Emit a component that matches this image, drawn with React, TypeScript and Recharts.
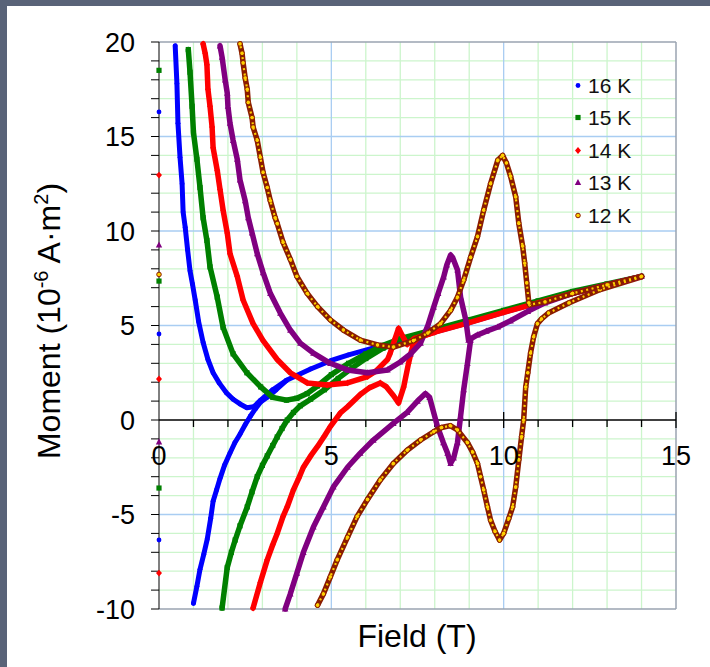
import React from "react";
import { ComposedChart, Scatter, XAxis, YAxis, ReferenceLine, ReferenceDot } from "recharts";

type P = [number, number];

// ---- data: [field (T), moment (1e-6 A·m²)] ----
const k16Up: P[] = [
  [14, 7.6], [13, 7.15], [12, 6.7], [11, 6.2], [10, 5.7], [9, 5.15], [8, 4.65], [7, 4.15],
  [6.2, 3.8], [5.5, 3.45], [5.0, 3.15], [4.4, 2.7], [3.7, 2.1], [3.3, 1.6], [2.95, 1.05],
  [2.75, 0.7], [2.55, 0.65], [2.35, 0.85], [2.15, 1.1], [1.95, 1.45], [1.75, 1.95],
  [1.57, 2.5], [1.42, 3.2], [1.28, 4.1], [1.15, 5.2], [1.05, 6.35], [0.97, 7.2], [0.9, 7.9],
  [0.83, 9.0], [0.76, 10.2], [0.7, 11.0], [0.67, 12.5], [0.61, 13.9], [0.55, 15.7],
  [0.52, 17.8], [0.47, 19.8],
];
const k16Down: P[] = [
  [1.0, -9.7], [1.1, -8.8], [1.19, -7.9], [1.3, -7.1], [1.4, -6.3], [1.5, -5.2], [1.57, -4.3],
  [1.67, -3.7], [1.77, -3.1], [1.9, -2.4], [2.06, -1.75], [2.2, -1.2], [2.35, -0.75],
  [2.5, -0.25], [2.65, 0.2], [2.8, 0.6], [2.95, 0.95], [3.14, 1.2], [3.4, 1.6], [3.7, 2.1],
];
const k16Zero: P[] = [[0, 16.3], [0, 4.55], [0, -6.35]];

const k15Up: P[] = [
  [14, 7.6], [13, 7.2], [12, 6.8], [11, 6.3], [10, 5.8], [9, 5.3], [8, 4.8], [7, 4.3],
  [6.5, 3.95], [6.0, 3.5], [5.5, 3.0], [5.0, 2.4], [4.6, 1.8], [4.3, 1.4], [4.0, 1.15],
  [3.7, 1.05], [3.3, 1.2], [2.95, 1.75], [2.55, 2.5], [2.15, 3.5], [1.86, 4.9], [1.69, 6.5],
  [1.48, 8.1], [1.39, 9.5], [1.28, 10.7], [1.19, 12.3], [1.1, 13.8], [1.0, 15.2],
  [0.96, 16.6], [0.9, 18.4], [0.85, 19.6],
];
const k15Down: P[] = [
  [1.83, -9.95], [1.98, -7.8], [2.1, -7.0], [2.21, -6.35], [2.35, -5.6], [2.56, -4.6],
  [2.7, -3.8], [2.85, -3.0], [3.0, -2.4], [3.14, -1.9], [3.3, -1.35], [3.43, -0.9],
  [3.57, -0.45], [3.72, 0], [3.9, 0.4], [4.1, 0.75], [4.4, 1.1], [4.8, 1.6], [5.2, 2.2],
  [5.6, 2.75], [6.0, 3.25], [6.5, 3.8], [7.0, 4.2],
];
const k15Zero: P[] = [[0, 18.5], [0, 7.35], [0, -3.6]];

const k14Up: P[] = [
  [14, 7.6], [13, 7.15], [12, 6.7], [11, 6.2], [10, 5.7], [9, 5.15], [8, 4.65], [7.4, 4.3],
  [7.2, 4.0], [7.05, 4.5], [6.95, 4.85], [6.85, 4.3], [6.7, 3.5], [6.63, 3.2], [6.3, 2.6],
  [6.05, 2.3], [5.47, 1.96], [4.88, 1.85], [4.3, 1.96], [3.81, 2.5], [3.43, 3.2], [3.02, 4.2],
  [2.73, 5.1], [2.44, 6.35], [2.27, 7.6], [2.06, 8.8], [1.98, 9.9], [1.86, 11.1],
  [1.77, 12.2], [1.69, 13.2], [1.57, 14.4], [1.54, 15.5], [1.48, 16.6], [1.42, 17.5],
  [1.39, 18.8], [1.34, 19.4], [1.28, 19.9],
];
const k14Down: P[] = [
  [2.73, -9.95], [2.94, -8.6], [3.14, -7.4], [3.3, -6.6], [3.43, -6.0], [3.6, -5.1],
  [3.72, -4.6], [3.9, -3.7], [4.05, -3.1], [4.19, -2.5], [4.4, -1.9], [4.6, -1.4],
  [4.8, -0.85], [4.97, -0.35], [5.26, 0.37], [5.47, 0.7], [5.84, 1.35], [6.1, 1.7],
  [6.42, 1.96], [6.6, 1.75], [6.8, 1.3], [6.95, 0.9], [7.1, 1.75], [7.24, 3.0], [7.38, 4.07],
  [7.6, 4.4], [8, 4.65],
];
const k14Zero: P[] = [[0, 12.96], [0, 2.17], [0, -8.1]];

const k13Up: P[] = [
  [14, 7.6], [13, 7.15], [12, 6.7], [11.2, 6.2], [10.7, 5.75], [10.2, 5.25], [9.83, 4.92],
  [9.5, 4.7], [9.24, 4.5], [8.98, 4.23], [8.9, 5.3], [8.75, 6.5], [8.66, 7.94], [8.52, 8.6],
  [8.46, 8.73], [8.35, 8.2], [8.26, 7.57], [8.1, 6.7], [7.97, 5.97], [7.8, 5.0], [7.59, 4.07],
  [7.3, 3.5], [7.0, 3.07], [6.63, 2.65], [6.05, 2.5], [5.47, 2.65], [4.97, 3.0], [4.48, 3.54],
  [4.1, 4.07], [3.81, 4.76], [3.52, 5.66], [3.23, 6.7], [3.02, 7.8], [2.85, 8.8], [2.7, 9.9],
  [2.59, 10.7], [2.5, 11.6], [2.35, 12.7], [2.27, 13.8], [2.15, 14.8], [2.06, 15.7],
  [2.0, 16.6], [1.98, 17.3], [1.92, 18.0], [1.83, 19.2], [1.77, 19.8],
];
const k13Down: P[] = [
  [3.66, -10], [3.81, -9.2], [4.0, -8.1], [4.19, -7.0], [4.48, -5.66], [4.77, -4.6],
  [5.06, -3.54], [5.47, -2.5], [5.84, -1.75], [6.22, -1.06], [6.8, -0.18], [7.2, 0.4],
  [7.5, 1.0], [7.73, 1.4], [7.85, 1.2], [8.08, -0.35], [8.25, -1.2], [8.37, -1.75],
  [8.46, -2.3], [8.55, -2.0], [8.66, -1.2], [8.75, 0.2], [8.84, 1.6], [8.95, 3.0], [9.04, 4.23],
];
const k13Zero: P[] = [[0, 9.26], [0, -1.16]];

const k12Up: P[] = [
  [14, 7.6], [13, 7.15], [12, 6.7], [11.2, 6.25], [10.75, 6.1], [10.73, 6.2], [10.67, 7.25],
  [10.61, 8.3], [10.55, 9.2], [10.44, 10.4], [10.35, 11.8], [10.2, 12.9], [10.08, 13.6],
  [9.97, 14.0], [9.83, 13.75], [9.62, 12.5], [9.42, 11.1], [9.24, 9.7], [9.04, 8.6],
  [8.84, 7.4], [8.66, 6.5], [8.46, 5.8], [8.17, 5.1], [7.8, 4.6], [7.38, 4.2], [6.8, 3.86],
  [6.34, 3.97], [5.84, 4.23], [5.35, 4.76], [4.97, 5.3], [4.6, 6.0], [4.3, 6.7], [4.0, 7.6],
  [3.81, 8.5], [3.6, 9.4], [3.43, 10.4], [3.37, 10.7], [3.23, 11.6], [3.14, 12.3],
  [3.02, 13.1], [2.94, 13.9], [2.85, 14.8], [2.73, 15.5], [2.7, 16.0], [2.59, 16.8],
  [2.56, 17.5], [2.5, 18.1], [2.44, 18.9], [2.41, 19.4], [2.35, 19.9],
];
const k12Down: P[] = [
  [4.6, -9.8], [4.77, -9.2], [4.97, -8.3], [5.17, -7.4], [5.47, -6.2], [5.75, -5.1],
  [6.05, -4.2], [6.42, -3.17], [6.8, -2.3], [7.2, -1.6], [7.59, -1.06], [7.97, -0.62],
  [8.2, -0.4], [8.45, -0.3], [8.66, -0.53], [8.95, -1.2], [9.1, -1.7], [9.24, -2.3],
  [9.33, -3.0], [9.42, -3.7], [9.53, -4.6], [9.62, -5.3], [9.75, -5.9], [9.88, -6.35],
  [10.0, -6.0], [10.15, -5.2], [10.26, -4.6], [10.35, -3.54], [10.44, -2.1], [10.52, -0.88],
  [10.58, 0], [10.64, 1.75], [10.7, 2.5], [10.78, 3.54], [10.87, 4.4], [10.98, 5.1],
  [11.1, 5.35], [11.3, 5.66], [11.9, 6.2], [12.8, 6.9], [14, 7.57],
];
const k12Zero: P[] = [[0, 7.7]];

const legendLabels = ["16 K", "15 K", "14 K", "13 K", "12 K"];

const xLabels = [0, 5, 10, 15];
const xMinor = [1, 2, 3, 4, 6, 7, 8, 9, 11, 12, 13, 14];
const xMajor = [5, 10];
const yMinor = [-9, -8, -7, -6, -4, -3, -2, -1, 1, 2, 3, 4, 6, 7, 8, 9, 11, 12, 13, 14, 16, 17, 18, 19];
const yMajor = [-5, 5, 10, 15];
const yTicks = [
  -10, -9, -8, -7, -6, -5, -4, -3, -2, -1, 0, 1, 2, 3, 4, 5, 6, 7, 8, 9, 10,
  11, 12, 13, 14, 15, 16, 17, 18, 19, 20,
];

const FONT = "'Liberation Sans', Arial, sans-serif";
const MINOR = "#ccf5cc";
const MAJOR = "#a9cdf2";
const BORDER = "#9aa3b0";
const BROWN = "#8b1c00";
const GOLD = "#ffd000";

const toPts = (a: P[]) => a.map(([x, y]) => ({ x, y }));

type ShapeFn = (p: any) => React.ReactElement;

const circle = (fill: string, r: number, stroke?: string): ShapeFn => (p) => (
  <circle cx={p.cx} cy={p.cy} r={r} fill={fill} stroke={stroke ?? "none"} strokeWidth={1} />
);
const square = (fill: string): ShapeFn => (p) => (
  <rect x={p.cx - 2.6} y={p.cy - 2.6} width={5.2} height={5.2} fill={fill} />
);
const diamond = (fill: string): ShapeFn => (p) => (
  <polygon
    points={`${p.cx},${p.cy - 3.4} ${p.cx + 3},${p.cy} ${p.cx},${p.cy + 3.4} ${p.cx - 3},${p.cy}`}
    fill={fill}
  />
);
const triangle = (fill: string): ShapeFn => (p) => (
  <polygon points={`${p.cx},${p.cy - 3.6} ${p.cx + 3.2},${p.cy + 2.6} ${p.cx - 3.2},${p.cy + 2.6}`} fill={fill} />
);
const none: ShapeFn = () => <g />;

const series = [
  { up: k16Up, down: k16Down, zero: k16Zero, color: "#0000ff", shape: circle("#0000ff", 2.4), lw: 5 },
  { up: k15Up, down: k15Down, zero: k15Zero, color: "#008000", shape: square("#008000"), lw: 5.5 },
  { up: k14Up, down: k14Down, zero: k14Zero, color: "#ff0000", shape: diamond("#ff0000"), lw: 5.5 },
  { up: k13Up, down: k13Down, zero: k13Zero, color: "#800080", shape: triangle("#800080"), lw: 5.5 },
  { up: k12Up, down: k12Down, zero: k12Zero, color: BROWN, shape: circle(GOLD, 2.3, BROWN), lw: 5.5 },
];

function LegendBox() {
  return (
    <div style={{ position: "absolute", left: 570, top: 0, fontFamily: FONT }}>
      {legendLabels.map((t, i) => {
        const s = series[i];
        return (
          <div key={t} style={{ position: "absolute", top: 75 + i * 32.4, left: 0, whiteSpace: "nowrap" }}>
            <svg width={16} height={21} style={{ position: "absolute", left: 0, top: 0 }}>
              {s.shape({ cx: 8, cy: 10.5 })}
            </svg>
            <span style={{ position: "absolute", left: 18, top: 0, fontSize: 21, lineHeight: "21px", color: "#111" }}>
              {t}
            </span>
          </div>
        );
      })}
    </div>
  );
}

export default function App() {
  return (
    <div style={{ position: "absolute", left: 0, top: 0, width: 710, height: 667, background: "#596378" }}>
      <div style={{ position: "absolute", left: 7, top: 6, right: 0, bottom: 0, background: "#fff" }} />
      <div style={{ position: "absolute", left: 0, top: 0 }}>
        <ComposedChart width={710} height={667} margin={{ top: 42, right: 34, bottom: 58, left: 79 }}>
          <XAxis type="number" dataKey="x" domain={[0, 15]} hide />
          <YAxis
            type="number"
            dataKey="y"
            domain={[-10, 20]}
            ticks={yTicks}
            interval={0}
            width={80}
            stroke="#000"
            tickSize={8}
            tickMargin={16}
            tickFormatter={(v: number) => (v % 5 === 0 ? String(v) : "")}
            tick={{ fontSize: 27, fill: "#000", fontFamily: FONT }}
          />
          {xMinor.map((v) => (
            <ReferenceLine key={`xm${v}`} x={v} stroke={MINOR} strokeWidth={1.3} />
          ))}
          {yMinor.map((v) => (
            <ReferenceLine key={`ym${v}`} y={v} stroke={MINOR} strokeWidth={1.3} />
          ))}
          {xMajor.map((v) => (
            <ReferenceLine key={`xM${v}`} x={v} stroke={MAJOR} strokeWidth={1.3} />
          ))}
          {yMajor.map((v) => (
            <ReferenceLine key={`yM${v}`} y={v} stroke={MAJOR} strokeWidth={1.3} />
          ))}
          <ReferenceLine y={20} stroke={BORDER} strokeWidth={1.5} />
          <ReferenceLine y={-10} stroke={BORDER} strokeWidth={1.5} />
          <ReferenceLine x={15} stroke={BORDER} strokeWidth={1.5} />
          <ReferenceLine y={0} stroke="#000" strokeWidth={1.3} />
          {xMinor.map((v) => (
            <ReferenceLine
              key={`xt${v}`}
              segment={[{ x: v, y: 0 }, { x: v, y: -0.37 }]}
              stroke="#000"
              strokeWidth={1.3}
            />
          ))}
          {xMajor.concat([15]).map((v) => (
            <ReferenceLine
              key={`xT${v}`}
              segment={[{ x: v, y: 0.42 }, { x: v, y: -0.42 }]}
              stroke="#000"
              strokeWidth={1.3}
            />
          ))}
          {xLabels.map((v) => (
            <ReferenceDot
              key={`xl${v}`}
              x={v}
              y={-1.85}
              r={0}
              stroke="none"
              fill="none"
              label={{ value: String(v), position: "center", fontSize: 27, fill: "#000", fontFamily: FONT }}
            />
          ))}
          {series.map((s, i) => (
            <Scatter
              key={`d${i}`}
              data={toPts(s.down)}
              fill={s.color}
              line={{ stroke: s.color, strokeWidth: s.lw, strokeLinejoin: "round", strokeLinecap: "round" }}
              shape={s.shape}
              isAnimationActive={false}
            />
          ))}
          {series.map((s, i) => (
            <Scatter
              key={`u${i}`}
              data={toPts(s.up)}
              fill={s.color}
              line={{ stroke: s.color, strokeWidth: s.lw, strokeLinejoin: "round", strokeLinecap: "round" }}
              shape={s.shape}
              isAnimationActive={false}
            />
          ))}
          {/* yellow speckle along the 12 K trace */}
          {[k12Down, k12Up].map((b, i) => (
            <Scatter
              key={`g${i}`}
              data={toPts(b)}
              fill={GOLD}
              line={{ stroke: GOLD, strokeWidth: 2.2, strokeDasharray: "2 3.5" }}
              shape={none}
              isAnimationActive={false}
            />
          ))}
          {series.map((s, i) => (
            <Scatter key={`z${i}`} data={toPts(s.zero)} fill={s.color} shape={s.shape} isAnimationActive={false} />
          ))}
        </ComposedChart>
      </div>
      <LegendBox />
      <div
        style={{
          position: "absolute",
          left: 49,
          top: 321,
          transform: "translate(-50%, -50%) rotate(-90deg)",
          whiteSpace: "nowrap",
          fontFamily: FONT,
          fontSize: 32,
          lineHeight: "32px",
          color: "#000",
        }}
      >
        Moment (10<sup style={{ fontSize: 20, lineHeight: 0 }}>-6</sup> A·m<sup style={{ fontSize: 20, lineHeight: 0 }}>2</sup>)
      </div>
      <div
        style={{
          position: "absolute",
          left: 417,
          top: 620,
          transform: "translateX(-50%)",
          whiteSpace: "nowrap",
          fontFamily: FONT,
          fontSize: 32,
          lineHeight: "32px",
          color: "#000",
        }}
      >
        Field (T)
      </div>
    </div>
  );
}
